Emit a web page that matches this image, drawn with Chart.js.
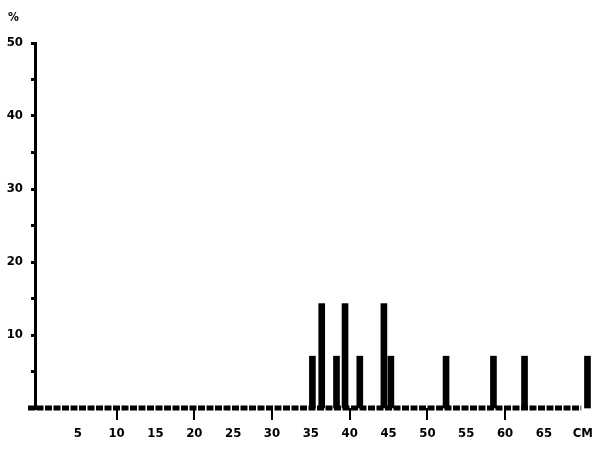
<!DOCTYPE html>
<html>
<head>
<meta charset="utf-8">
<script src="https://cdn.jsdelivr.net/npm/chart.js@4/dist/chart.umd.min.js"></script>
<style>
  html, body { margin: 0; padding: 0; background: #fff; }
  #wrap { width: 599px; height: 450px; }
</style>
</head>
<body>
<div id="wrap"><canvas id="HistChart"></canvas></div>
<script>
// class positions (cm) and share of specimens (%)
const lengths = [35.2, 36.4, 38.3, 39.4, 41.3, 44.4, 45.3, 52.4, 58.5, 62.5, 70.6];
const percents = [7.1, 14.3, 7.1, 14.3, 7.1, 14.3, 7.1, 7.1, 7.1, 7.1, 7.1];
const xTicks = [5, 10, 15, 20, 25, 30, 35, 40, 45, 50, 55, 60, 65, 70];
const yTicks = [5, 10, 15, 20, 25, 30, 35, 40, 45, 50];
const unitLabel = "CM";
const yTitle = "%";

const font = { family: "'DejaVu Sans Condensed', 'DejaVu Sans', sans-serif", size: 13, weight: "bold" };

// "%" above the y axis + the dashed base line
const extrasPlugin = {
  id: "extras",
  beforeDatasetsDraw(chart) {
    const c = chart.ctx;
    const x = chart.scales.x, y = chart.scales.y;
    const y0 = y.getPixelForValue(0);
    c.save();
    c.strokeStyle = "#000";
    c.lineWidth = 5;
    c.setLineDash([7, 1.5]);
    c.beginPath();
    c.moveTo(x.getPixelForValue(-1.4), y0);
    c.lineTo(x.getPixelForValue(69.8), y0);
    c.stroke();
    c.restore();
  },
  afterDraw(chart) {
    const c = chart.ctx;
    c.save();
    c.font = "bold 12px 'DejaVu Sans Condensed', 'DejaVu Sans', sans-serif";
    c.fillStyle = "#000";
    c.textAlign = "left";
    c.textBaseline = "middle";
    c.fillText(yTitle, 8, 18);
    c.restore();
  },
};

const ctx = document.getElementById("HistChart").getContext("2d");
new Chart(ctx, {
  type: "bar",
  data: {
    datasets: [
      {
        data: lengths.map((v, i) => ({ x: v, y: percents[i] })),
        backgroundColor: "#000",
        barThickness: 6,
        clip: false,
      },
    ],
  },
  options: {
    responsive: true,
    maintainAspectRatio: false,
    animation: false,
    layout: { padding: { top: 43, right: 4, left: 0, bottom: 0 } },
    plugins: { legend: { display: false }, tooltip: { enabled: false } },
    scales: {
      x: {
        type: "linear",
        offset: false,
        min: -0.5,
        max: 71.5,
        afterBuildTicks: (s) => { s.ticks = xTicks.map((v) => ({ value: v })); },
        afterFit: (s) => { s.height = 42; },
        ticks: {
          autoSkip: false,
          maxRotation: 0,
          color: "#000",
          font: font,
          padding: 6,
          callback: (v) => (v === 70 ? unitLabel : v),
        },
        grid: {
          offset: false,
          drawOnChartArea: false,
          tickLength: 12,
          lineWidth: 2,
          tickColor: (c) => (c.tick && c.tick.value % 10 === 0 && c.tick.value < 70 ? "#000" : "rgba(0,0,0,0)"),
        },
        border: { display: false },
      },
      y: {
        min: 0,
        max: 50,
        afterBuildTicks: (s) => { s.ticks = yTicks.map((v) => ({ value: v })); },
        afterFit: (s) => { s.width = 35; },
        ticks: {
          color: "#000",
          font: font,
          padding: 8,
          callback: (v) => (v % 10 === 0 ? v : ""),
        },
        grid: { drawOnChartArea: false, tickLength: 4, lineWidth: 3, tickColor: "#000" },
        border: { color: "#000", width: 3 },
      },
    },
  },
  plugins: [extrasPlugin],
});
</script>
</body>
</html>
